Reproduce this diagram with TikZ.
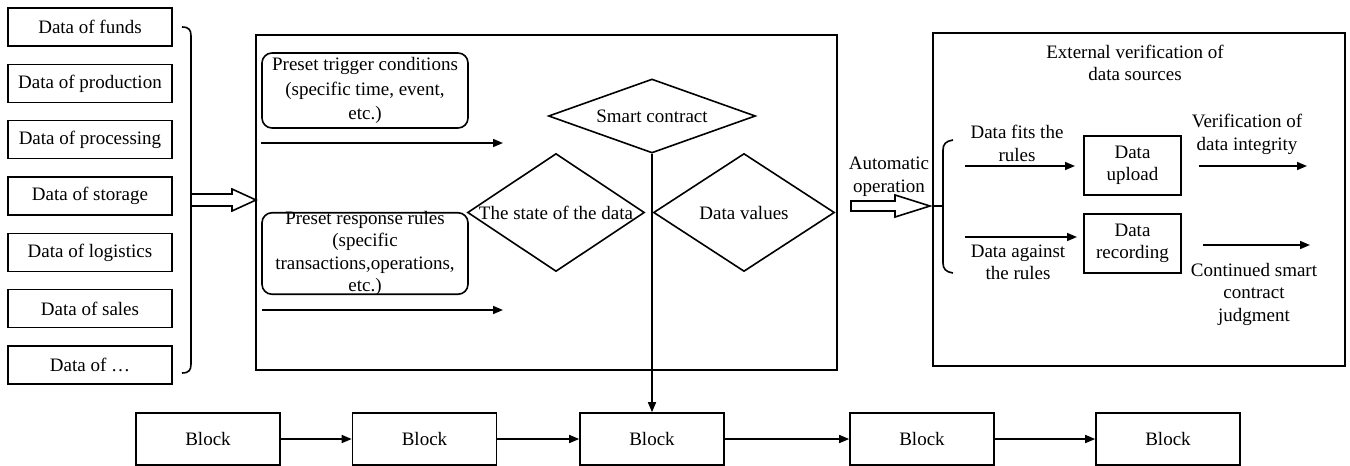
\documentclass[tikz,border=0pt]{standalone}
\usepackage{fontspec}
\setmainfont{Liberation Serif}
\newfontfamily\figserif{Liberation Serif}
\usetikzlibrary{shapes.geometric,arrows.meta}
\begin{document}
\begin{tikzpicture}[x=1pt,y=-1pt, line width=1.6pt,
  every node/.style={font=\figserif\fontsize{19}{22.5}\selectfont, align=center, inner sep=0pt},
  databox/.style={draw, minimum width=164pt, minimum height=38pt},
  rbox/.style={draw, rounded corners=10pt, minimum width=206pt},
  dia/.style={draw, diamond, inner sep=0pt},
  blockbox/.style={draw, minimum width=144pt, minimum height=52pt},
  smallbox/.style={draw, minimum width=97pt, minimum height=59pt},
  arr/.style={-{Triangle[length=10pt,width=8pt]}},
  hollow/.style={draw, fill=white}]
\useasboundingbox (0,0) rectangle (1350,466);

% left data boxes
\node[databox] (d1) at (90,27) {Data of funds};
\node[databox] (d2) at (90,83.5) {Data of production};
\node[databox] (d3) at (90,139.5) {Data of processing};
\node[databox] (d4) at (90,196) {Data of storage};
\node[databox] (d5) at (90,252.5) {Data of logistics};
\node[databox] (d6) at (90,308.5) {Data of sales};
\node[databox] (d7) at (90,365) {Data of \ldots};

% left brace
\draw (182,27) .. controls (189,27) and (191,30) .. (191,36) -- (191,364) .. controls (191,370) and (189,373) .. (182,373);

% central box
\node[draw, minimum width=581pt, minimum height=335pt] (cbox) at (546.5,202.5) {};

% left hollow arrow
\draw[hollow] (191,194) -- (232,194) -- (232,189) -- (256,200) -- (232,211) -- (232,206) -- (191,206) -- cycle;

% rounded boxes
\node[rbox, minimum height=75pt, font=\figserif\fontsize{19}{24.5}\selectfont] (trig) at (365,90.5) {Preset trigger conditions\\(specific time, event,\\etc.)};
\node[rbox, minimum height=81.5pt] (resp) at (365,253.5) {};
\node (resptext) at (365,253.5) {Preset response rules\\(specific\\transactions,operations,\\etc.)};

\coordinate (t1s) at (261,143);
\coordinate (t1e) at (503,143);
\draw[arr] (t1s) -- (t1e);
\coordinate (t2s) at (262,310);
\coordinate (t2e) at (503,310);
\draw[arr] (t2s) -- (t2e);

% diamonds
\node[dia, aspect=2.8, minimum width=207pt, minimum height=74pt] (sc) at (652,116) {Smart contract};
\node[dia, aspect=1.5, minimum width=177pt, minimum height=118pt] (st) at (556,212.5) {The state of the data};
\node[dia, aspect=1.53, minimum width=181pt, minimum height=118pt] (dv) at (744,212.5) {Data values};

% blocks
\node[blockbox] (b1) at (208,439) {Block};
\node[blockbox] (b2) at (424.5,439) {Block};
\node[blockbox] (b3) at (652,439) {Block};
\node[blockbox] (b4) at (922,439) {Block};
\node[blockbox] (b5) at (1168,439) {Block};
\draw[arr] (sc.south) -- (b3.north);
\draw[arr] (b1) -- (b2);
\draw[arr] (b2) -- (b3);
\draw[arr] (b3) -- (b4);
\draw[arr] (b4) -- (b5);

% automatic operation
\node (auto) at (889,176.5) {Automatic\\operation};
\draw[hollow] (851,201) -- (895,201) -- (895,195) -- (930,206) -- (895,217) -- (895,211) -- (851,211) -- cycle;

% right box
\node[draw, minimum width=412pt, minimum height=333pt] (rbx) at (1139,199.5) {};
\node (ext) at (1135,63) {External verification of\\data sources};
\draw (953,140) .. controls (946,141) and (943,144) .. (943,150) -- (943,263) .. controls (943,269) and (946,272) .. (953,273);
\draw (933,206) -- (943,206);

\node[smallbox] (up) at (1132.5,165.5) {Data\\upload};
\node[smallbox] (rec) at (1132.5,243.5) {Data\\recording};

\node (fits) at (1017,143.5) {Data fits the\\rules};
\node (against) at (1018,262.5) {Data against\\the rules};
\coordinate (f1) at (965,166);
\coordinate (f2) at (1075,166);
\draw[arr] (f1) -- (f2);
\coordinate (g1) at (965,237);
\coordinate (g2) at (1077,237);
\draw[arr] (g1) -- (g2);

\node (verif) at (1247,134.5) {Verification of\\data integrity};
\coordinate (v1) at (1199,166);
\coordinate (v2) at (1307,166);
\draw[arr] (v1) -- (v2);
\node (cont) at (1254,294) {Continued smart\\contract\\judgment};
\coordinate (c1) at (1203,245);
\coordinate (c2) at (1310,245);
\draw[arr] (c1) -- (c2);
\end{tikzpicture}
\end{document}
